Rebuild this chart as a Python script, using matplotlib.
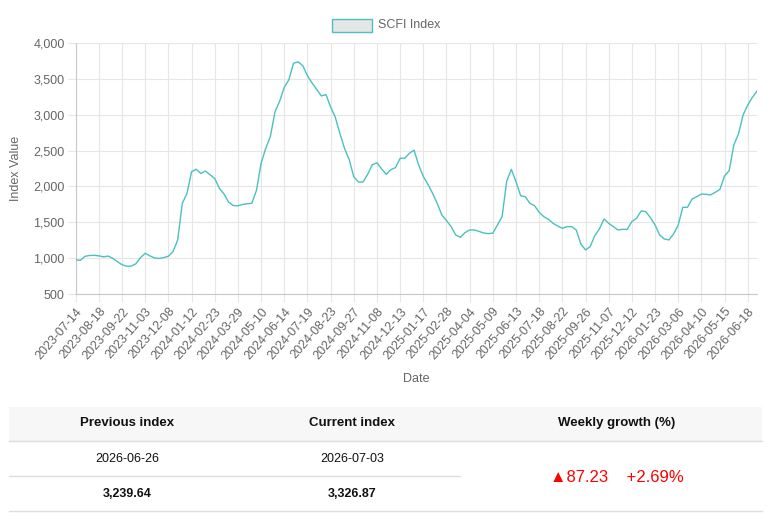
import matplotlib
matplotlib.use("Agg")
import matplotlib.pyplot as plt
from matplotlib.patches import Rectangle
from matplotlib.lines import Line2D
from matplotlib.ticker import FuncFormatter

# weekly SCFI values (2023-07-14 .. 2026-07-03, holiday weeks skipped)
scfi_values = [
    980, 972, 1028, 1040, 1042, 1035, 1022, 1032, 1000, 955,
    912, 890, 893, 925, 1012, 1070, 1035, 1005, 998, 1010,
    1030, 1095, 1255, 1766, 1900, 2206, 2239, 2180, 2215, 2163,
    2110, 1975, 1895, 1780, 1735, 1730, 1750, 1760, 1766, 1945,
    2322, 2530, 2695, 3040, 3185, 3380, 3485, 3715, 3733, 3680,
    3540, 3440, 3350, 3260, 3278, 3105, 2965, 2738, 2530, 2375,
    2135, 2062, 2062, 2170, 2303, 2330, 2245, 2168, 2234, 2262,
    2391, 2394, 2461, 2505, 2299, 2140, 2030, 1905, 1766, 1603,
    1525, 1441, 1325, 1293, 1358, 1395, 1395, 1376, 1353, 1344,
    1350, 1464, 1580, 2076, 2238, 2067, 1872, 1858, 1766, 1733,
    1640, 1580, 1543, 1487, 1450, 1418, 1441, 1441, 1395, 1200,
    1117, 1163, 1316, 1409, 1548, 1487, 1441, 1395, 1404, 1404,
    1511, 1557, 1659, 1650, 1566, 1464, 1325, 1270, 1256, 1339,
    1464, 1710, 1710, 1826, 1858, 1895, 1891, 1882, 1919, 1960,
    2146, 2220, 2577, 2730, 2994, 3133, 3239.64, 3326.87,
]

# labels shown on the x axis (every 5th week)
tick_labels = [
    "2023-07-14", "2023-08-18", "2023-09-22", "2023-11-03", "2023-12-08",
    "2024-01-12", "2024-02-23", "2024-03-29", "2024-05-10", "2024-06-14",
    "2024-07-19", "2024-08-23", "2024-09-27", "2024-11-08", "2024-12-13",
    "2025-01-17", "2025-02-28", "2025-04-04", "2025-05-09", "2025-06-13",
    "2025-07-18", "2025-08-22", "2025-09-26", "2025-11-07", "2025-12-12",
    "2026-01-23", "2026-03-06", "2026-04-10", "2026-05-15", "2026-06-18",
]
tick_step = 5

prev_date, cur_date = "2026-06-26", "2026-07-03"
prev_value, cur_value = 3239.64, 3326.87

W, H = 773, 521
LINE = "#4bc0c0"
GRID = "#e6e6e6"
TXT = "#666666"

plt.rcParams["font.family"] = ["Liberation Sans", "DejaVu Sans"]

fig = plt.figure(figsize=(W / 100, H / 100), dpi=100)

def fx(px):
    return px / W

def fy(py):
    return 1 - py / H

# axes box in pixels
left, right, top, bottom = 75.7, 757, 42.7, 294.3
ax = fig.add_axes([fx(left), fy(bottom), fx(right - left), (bottom - top) / H])

xs = list(range(len(scfi_values)))
ax.plot(xs, scfi_values, color=LINE, linewidth=1.0, zorder=3)

ax.set_xlim(0, len(scfi_values) - 1)
ax.set_ylim(500, 4000)
ax.set_yticks(range(500, 4001, 500))
ax.yaxis.set_major_formatter(FuncFormatter(lambda v, p: f"{int(v):,}"))
ax.set_xticks(range(0, len(tick_labels) * tick_step, tick_step))
ax.set_xticklabels(tick_labels, rotation=49, ha="right", rotation_mode="anchor")

ax.grid(True, color=GRID, linewidth=0.8)
ax.set_axisbelow(True)
for side in ["top", "right"]:
    ax.spines[side].set_visible(False)
for side in ["left", "bottom"]:
    ax.spines[side].set_color("#c8c8c8")
    ax.spines[side].set_linewidth(0.8)
ax.tick_params(axis="both", length=6, color=GRID, labelcolor=TXT, labelsize=9)
ax.tick_params(axis="y", pad=2)
ax.tick_params(axis="x", pad=2)

ax.set_ylabel("Index Value", color=TXT, fontsize=9, labelpad=8)
ax.set_xlabel("Date", color=TXT, fontsize=9, labelpad=8)

# legend drawn like the Chart.js one
fig.add_artist(Rectangle((fx(332), fy(32)), fx(40), 13 / H, transform=fig.transFigure,
                         facecolor="#e6e6e6", edgecolor=LINE, linewidth=1.0))
fig.text(fx(378), fy(25.5), "SCFI Index", color=TXT, fontsize=9, va="center", ha="left")

# summary table under the chart
fig.add_artist(Rectangle((fx(9), fy(441)), fx(753), 34 / H, transform=fig.transFigure,
                         facecolor="#f7f7f7", edgecolor="none"))
fig.add_artist(Line2D([fx(9), fx(762)], [fy(441), fy(441)], color="#dddddd", linewidth=1))
fig.add_artist(Line2D([fx(9), fx(460)], [fy(476), fy(476)], color="#dddddd", linewidth=1))
fig.add_artist(Line2D([fx(9), fx(762)], [fy(511), fy(511)], color="#dddddd", linewidth=1))

hdr = dict(fontsize=9.5, fontweight="bold", color="#111111", ha="center", va="center")
fig.text(fx(127), fy(423), "Previous index", **hdr)
fig.text(fx(352), fy(423), "Current index", **hdr)
fig.text(fx(617), fy(423), "Weekly growth (%)", **hdr)

cell = dict(fontsize=9, color="#111111", ha="center", va="center")
fig.text(fx(127), fy(459), prev_date, **cell)
fig.text(fx(352), fy(459), cur_date, **cell)
fig.text(fx(127), fy(494), f"{prev_value:,.2f}", fontweight="bold", **cell)
fig.text(fx(352), fy(494), f"{cur_value:,.2f}", fontweight="bold", **cell)

diff = cur_value - prev_value
pct = diff / prev_value * 100
fig.text(fx(617), fy(477), f"\u25b2{diff:.2f}    +{pct:.2f}%", fontsize=12,
         color="#ff0000", ha="center", va="center")

fig.savefig("out.png", dpi=100)
